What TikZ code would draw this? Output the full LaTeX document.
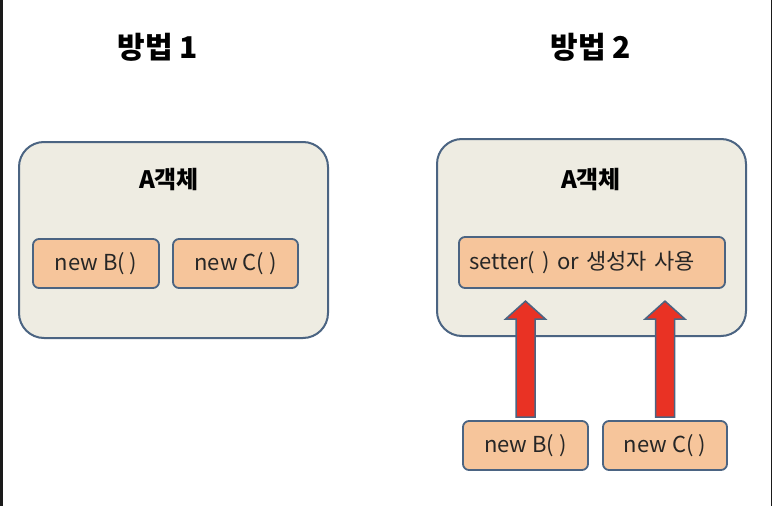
\documentclass[tikz,border=0pt]{standalone}
\usepackage{fontspec}
\setmainfont{Noto Sans CJK KR}
\usetikzlibrary{calc}
\definecolor{edgec}{RGB}{75,100,130}
\definecolor{panel}{RGB}{238,236,226}
\definecolor{peach}{RGB}{246,197,155}
\definecolor{arrowred}{RGB}{233,50,36}
\definecolor{framec}{RGB}{26,26,26}
\tikzset{
  bigbox/.style={draw=edgec, line width=2pt, fill=panel, rounded corners=25pt},
  smallbox/.style={draw=edgec, line width=1.8pt, fill=peach, rounded corners=6pt,
    font=\fontsize{22}{25}\selectfont, text=black!85, inner sep=0pt},
  objtitle/.style={font=\bfseries\fontsize{24}{28}\selectfont},
  headtitle/.style={font=\bfseries\fontsize{30}{34}\selectfont},
  blockarrow/.style={draw=edgec, line width=1.5pt, fill=arrowred, line join=miter}
}
\begin{document}
\begin{tikzpicture}[x=1pt,y=-1pt]
\useasboundingbox (0,0) rectangle (772,506);
\fill[white] (0,0) rectangle (772,506);
\fill[framec] (0,0) rectangle (3,506);
\fill[framec] (770.5,0) rectangle (772,506);

% titles
\node[headtitle] (t1) at (158,47) {방법 1};
\node[headtitle] (t2) at (591,47) {방법 2};

% method 1
\node[bigbox, minimum width=309pt, minimum height=196pt] (A1) at (173.5,240) {};
\node[objtitle] (A1t) at (169,180) {A객체};
\node[smallbox, minimum width=126pt, minimum height=49pt] (b1) at (96,263.5) {new B( )};
\node[smallbox, minimum width=125pt, minimum height=49pt] (c1) at (235.5,263.5) {new C( )};

% method 2
\node[bigbox, minimum width=309pt, minimum height=197pt] (A2) at (591.5,237.5) {};
\node[objtitle] (A2t) at (591,180) {A객체};
\node[smallbox, minimum width=266pt, minimum height=51pt, text width=246pt, align=left] (s2) at (592,262.5) {setter( ) or 생성자 사용};
\node[smallbox, minimum width=125pt, minimum height=49pt] (b2) at (525.5,445.5) {new B( )};
\node[smallbox, minimum width=124pt, minimum height=49pt] (c2) at (665,445.5) {new C( )};

% block arrows
\foreach \n in {b2,c2}{
  \draw[blockarrow]
    ($(\n.north)+(-9.5,-3)$) -- ($(\n.north)+(-9.5,-101)$) -- ($(\n.north)+(-20,-101)$)
    -- ($(\n.north)+(0,-119)$) -- ($(\n.north)+(20,-101)$) -- ($(\n.north)+(9.5,-101)$)
    -- ($(\n.north)+(9.5,-3)$) -- cycle;
}
\end{tikzpicture}
\end{document}
